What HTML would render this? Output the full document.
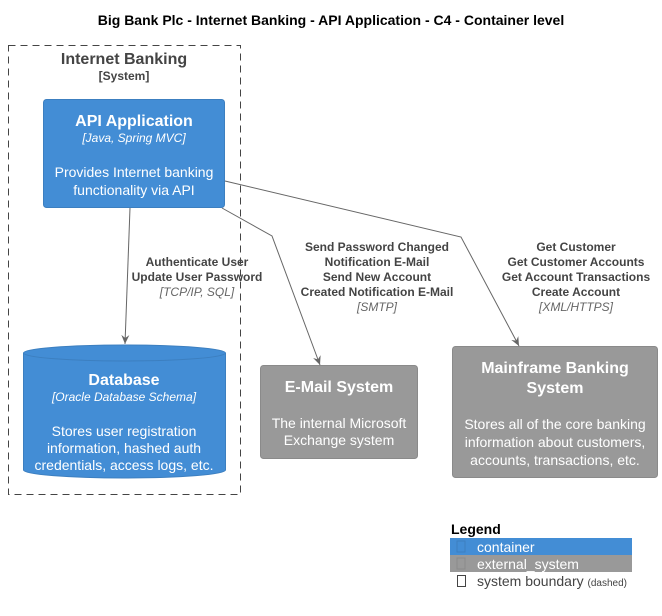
<!DOCTYPE html>
<html><head><meta charset="utf-8"><style>
html,body{margin:0;padding:0;background:#fff;}
svg{display:block;font-family:"Liberation Sans",sans-serif;}
</style></head><body>
<svg width="662" height="616" viewBox="0 0 662 616" xmlns="http://www.w3.org/2000/svg">
<defs><marker id="a" markerWidth="10" markerHeight="10" refX="9" refY="5" orient="auto" markerUnits="userSpaceOnUse"><path d="M0,1 L9,5 L0,9 L3,5 Z" fill="#666"/></marker></defs>
<text x="331" y="25" text-anchor="middle" font-size="14" font-weight="bold" fill="#000">Big Bank Plc - Internet Banking - API Application - C4 - Container level</text>
<rect x="8.5" y="45.5" width="232" height="449" fill="none" stroke="#444" stroke-dasharray="7,5"/>
<text x="124" y="64" text-anchor="middle" font-size="16" font-weight="bold" fill="#444">Internet Banking</text>
<text x="124" y="80" text-anchor="middle" font-size="12" font-weight="bold" fill="#444">[System]</text>
<rect x="43.5" y="99.5" width="181" height="108" rx="3" fill="#438DD5" stroke="#3C7FC0"/>
<text x="134" y="126" text-anchor="middle" font-size="16" font-weight="bold" fill="#fff">API Application</text>
<text x="134" y="142" text-anchor="middle" font-size="12" font-style="italic" fill="#fff">[Java, Spring MVC]</text>
<text x="134" y="177" text-anchor="middle" font-size="14" fill="#fff">Provides Internet banking</text>
<text x="134" y="195" text-anchor="middle" font-size="14" fill="#fff">functionality via API</text>
<path d="M23.5,353 L23.5,470 A101,8 0 0 0 225.5,470 L225.5,353 A101,8 0 0 0 23.5,353 Z" fill="#438DD5" stroke="#3C7FC0"/>
<path d="M23.5,353 A101,8 0 0 0 225.5,353" fill="none" stroke="#3C7FC0"/>
<text x="124" y="385" text-anchor="middle" font-size="16" font-weight="bold" fill="#fff">Database</text>
<text x="124" y="401" text-anchor="middle" font-size="12" font-style="italic" fill="#fff">[Oracle Database Schema]</text>
<text x="124" y="436" text-anchor="middle" font-size="14" fill="#fff">Stores user registration</text>
<text x="124" y="453" text-anchor="middle" font-size="14" fill="#fff">information, hashed auth</text>
<text x="124" y="470" text-anchor="middle" font-size="14" fill="#fff">credentials, access logs, etc.</text>
<rect x="260.5" y="365.5" width="157" height="93" rx="3" fill="#999" stroke="#8A8A8A"/>
<text x="339" y="392" text-anchor="middle" font-size="16" font-weight="bold" fill="#fff">E-Mail System</text>
<text x="339" y="428" text-anchor="middle" font-size="14" fill="#fff">The internal Microsoft</text>
<text x="339" y="445" text-anchor="middle" font-size="14" fill="#fff">Exchange system</text>
<rect x="452.5" y="346.5" width="205" height="131" rx="3" fill="#999" stroke="#8A8A8A"/>
<text x="555" y="373" text-anchor="middle" font-size="16" font-weight="bold" fill="#fff">Mainframe Banking</text>
<text x="555" y="393" text-anchor="middle" font-size="16" font-weight="bold" fill="#fff">System</text>
<text x="555" y="429" text-anchor="middle" font-size="14" fill="#fff">Stores all of the core banking</text>
<text x="555" y="447" text-anchor="middle" font-size="14" fill="#fff">information about customers,</text>
<text x="555" y="465" text-anchor="middle" font-size="14" fill="#fff">accounts, transactions, etc.</text>
<g stroke="#666" fill="none">
<path d="M130,208 L125,344" marker-end="url(#a)"/>
<path d="M222,208 L272,236 L320,365" marker-end="url(#a)"/>
<path d="M225,181 L461,237 L519,346" marker-end="url(#a)"/>
</g>
<g font-size="12" font-weight="bold" fill="#444" text-anchor="middle">
<text x="197" y="266">Authenticate User</text>
<text x="197" y="281">Update User Password</text>
<text x="377" y="251">Send Password Changed</text>
<text x="377" y="266">Notification E-Mail</text>
<text x="377" y="281">Send New Account</text>
<text x="377" y="296">Created Notification E-Mail</text>
<text x="576" y="251">Get Customer</text>
<text x="576" y="266">Get Customer Accounts</text>
<text x="576" y="281">Get Account Transactions</text>
<text x="576" y="296">Create Account</text>
</g>
<g font-size="12" font-style="italic" fill="#666" text-anchor="middle">
<text x="197" y="296">[TCP/IP, SQL]</text>
<text x="377" y="311">[SMTP]</text>
<text x="576" y="311">[XML/HTTPS]</text>
</g>
<text x="451" y="534" font-size="14" font-weight="bold" fill="#000">Legend</text>
<rect x="450" y="538" width="182" height="17" fill="#438DD5"/>
<rect x="450" y="555" width="182" height="17" fill="#999"/>
<rect x="457" y="541" width="8" height="11" fill="none" stroke="#3C7FC0"/>
<rect x="457" y="558" width="8" height="11" fill="none" stroke="#8A8A8A"/>
<rect x="457.5" y="575.5" width="8" height="11" fill="none" stroke="#444"/>
<text x="477" y="552" font-size="14" fill="#fff">container</text>
<text x="477" y="569" font-size="14" fill="#fff">external_system</text>
<text x="477" y="586" font-size="14" fill="#444">system boundary <tspan font-size="10">(dashed)</tspan></text>
</svg>
</body></html>
